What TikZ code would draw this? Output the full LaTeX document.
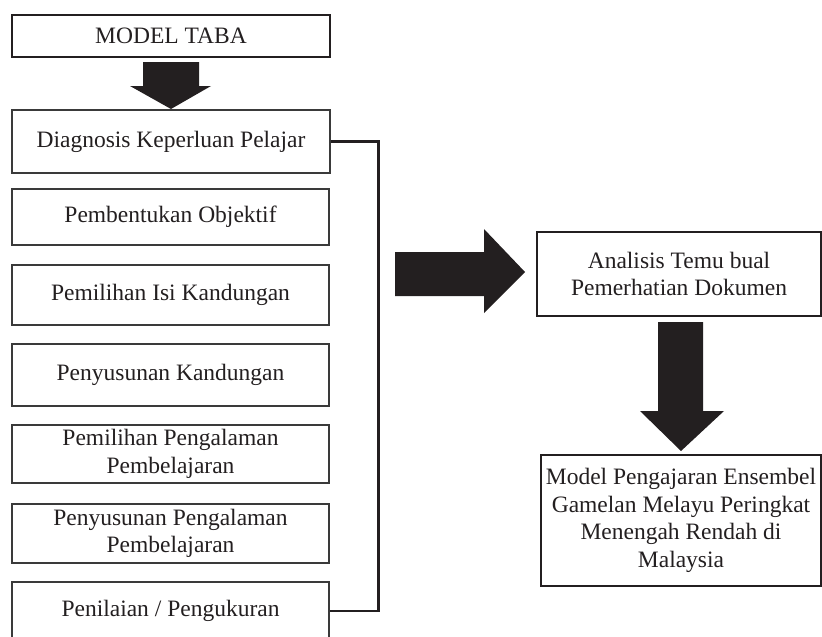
\documentclass[tikz,border=0pt]{standalone}
\usepackage{fontspec}
\setmainfont{Liberation Serif}
\definecolor{ink}{HTML}{231F20}
\definecolor{edge}{HTML}{3A3A3A}
\begin{document}
\begin{tikzpicture}[x=1pt,y=-1pt,
  every node/.style={text=ink, font=\fontsize{23.5}{27.5}\selectfont, align=center, inner sep=0pt},
  thinbox/.style={draw=edge, line width=1.1pt, minimum width=317pt},
  thickbox/.style={draw=ink, line width=2.6pt},
  bracket/.style={draw=ink, line width=2.2pt},
  blockarrow/.style={fill=ink, draw=none}]
\useasboundingbox (0,0) rectangle (822,637);
\clip (0,0) rectangle (822,637);
% left column
\node[thickbox, minimum width=318pt, minimum height=42pt] (taba) at (171,36) {MODEL TABA};
\node[thinbox, minimum width=318pt, minimum height=63pt] (diag) at (171,141.5) {Diagnosis Keperluan Pelajar};
\node[thinbox, minimum height=56pt] (b2) at (170.5,217) {Pembentukan Objektif};
\node[thinbox, minimum height=60pt] (b3) at (170.5,295) {Pemilihan Isi Kandungan};
\node[thinbox, minimum height=62pt] (b4) at (170.5,375) {Penyusunan Kandungan};
\node[thinbox, minimum height=58pt] (b5) at (170.5,454) {Pemilihan Pengalaman\\Pembelajaran};
\node[thinbox, minimum height=59pt] (b6) at (170.5,533.5) {Penyusunan Pengalaman\\Pembelajaran};
\node[thinbox, minimum height=58pt] (b7) at (170.5,611) {Penilaian / Pengukuran};
% right column
\node[thickbox, minimum width=284pt, minimum height=84pt] (anal) at (679,274) {Analisis Temu bual\\Pemerhatian Dokumen};
\node[thickbox, minimum width=280pt, minimum height=131pt] (model) at (681,520.5) {Model Pengajaran Ensembel\\Gamelan Melayu Peringkat\\Menengah Rendah di\\Malaysia};
% bracket
\draw[bracket] (diag.east) -- ++(48,0) |- (b7.east);
% block arrows
\fill[blockarrow] (143,62) -- (199,62) -- (199,86) -- (211,86) -- (171,109) -- (130,86) -- (143,86) -- cycle;
\fill[blockarrow] (395,252) -- (484,252) -- (484,229) -- (525,272) -- (484,313) -- (484,296) -- (395,296) -- cycle;
\fill[blockarrow] (658,322) -- (703,322) -- (703,411) -- (724,411) -- (681,451) -- (640,411) -- (658,411) -- cycle;
\end{tikzpicture}
\end{document}
